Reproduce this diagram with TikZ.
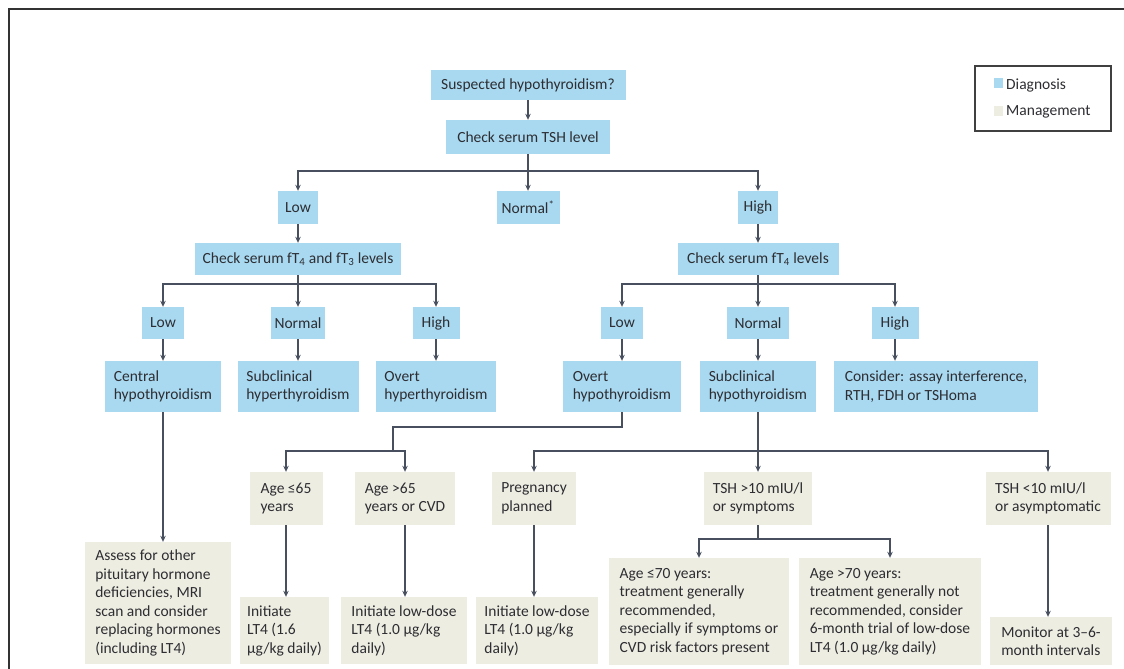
\documentclass[tikz,border=0pt]{standalone}
\usepackage{fontspec}
\setmainfont{Carlito}
\usetikzlibrary{arrows.meta}
\definecolor{diagc}{RGB}{168,217,240}
\definecolor{mgmtc}{RGB}{238,237,226}
\definecolor{linec}{RGB}{72,80,96}
\definecolor{txtc}{RGB}{45,45,50}
\begin{document}
\begin{tikzpicture}[x=1pt,y=-1pt,
  box/.style={inner sep=0pt, font=\fontsize{15.5}{18.5}\selectfont, text=txtc, align=left},
  dbox/.style={box, fill=diagc},
  mbox/.style={box, fill=mgmtc},
  arr/.style={draw=linec, line width=1.8pt, -{Stealth[length=6pt,width=5.5pt]}},
  ln/.style={draw=linec, line width=1.8pt},
  frame/.style={draw=black!80, line width=2.5pt},
  legbox/.style={draw=black!75, line width=1.6pt}]
\path[use as bounding box] (0,0) rectangle (1124,669);
\draw[frame] (1124,9) -- (9,9) -- (9,669);

% legend
\draw[legbox] (975,66) rectangle (1111,131);
\fill[diagc] (994,78) rectangle (1003,88);
\fill[mgmtc] (994,106) rectangle (1003,116);
\node[box, anchor=west] (legd) at (1006,85) {Diagnosis};
\node[box, anchor=west] (legm) at (1006,112) {Management};

% diagnosis nodes
\node[dbox, minimum width=195pt, minimum height=30pt] (susp) at (528,85) {Suspected hypothyroidism?};
\node[dbox, minimum width=164pt, minimum height=34pt] (tsh) at (528,137) {Check serum TSH level};
\node[dbox, minimum width=40pt, minimum height=33pt] (low1) at (298,207.5) {Low};
\node[dbox, minimum width=63pt, minimum height=33pt] (norm1) at (528,207.5) {Normal\textsuperscript{*}};
\node[dbox, minimum width=40pt, minimum height=33pt] (high1) at (758,207.5) {High};
\node[dbox, minimum width=206pt, minimum height=32pt] (chk1) at (298,259) {Check serum fT\textsubscript{4} and fT\textsubscript{3} levels};
\node[dbox, minimum width=161pt, minimum height=32pt] (chk2) at (758,259) {Check serum fT\textsubscript{4} levels};
\node[dbox, minimum width=42pt, minimum height=32pt] (low2) at (163,323) {Low};
\node[dbox, minimum width=54pt, minimum height=32pt] (norm2) at (298,323) {Normal};
\node[dbox, minimum width=47pt, minimum height=32pt] (high2) at (436,323) {High};
\node[dbox, minimum width=42pt, minimum height=32pt] (low3) at (622,323) {Low};
\node[dbox, minimum width=62pt, minimum height=32pt] (norm3) at (758,323) {Normal};
\node[dbox, minimum width=47pt, minimum height=32pt] (high3) at (895,323) {High};
\node[dbox, minimum width=116pt, minimum height=51pt] (central) at (163,386.5) {Central\\hypothyroidism};
\node[dbox, minimum width=121pt, minimum height=51pt] (subhyper) at (298,386.5) {Subclinical\\hyperthyroidism};
\node[dbox, minimum width=120pt, minimum height=51pt] (overhyper) at (436,386.5) {Overt\\hyperthyroidism};
\node[dbox, minimum width=118pt, minimum height=51pt] (overhypo) at (622,386.5) {Overt\\hypothyroidism};
\node[dbox, minimum width=116pt, minimum height=51pt] (subhypo) at (758,386.5) {Subclinical\\hypothyroidism};
\node[dbox, minimum width=204pt, minimum height=51pt] (consider) at (936,386.5) {Consider: assay interference,\\RTH, FDH or TSHoma};

% management nodes
\node[mbox, minimum width=73pt, minimum height=53pt] (age65) at (286,498.5) {Age ≤65\\years};
\node[mbox, minimum width=100pt, minimum height=53pt] (age65b) at (405,498.5) {Age >65\\years or CVD};
\node[mbox, minimum width=84pt, minimum height=53pt] (preg) at (534,498.5) {Pregnancy\\planned};
\node[mbox, minimum width=108pt, minimum height=53pt] (tsh10) at (758,498.5) {TSH >10 mIU/l\\or symptoms};
\node[mbox, minimum width=125pt, minimum height=53pt] (tsh10b) at (1048,498.5) {TSH <10 mIU/l\\or asymptomatic};
\node[mbox, minimum width=146pt, minimum height=122pt] (assess) at (158,603) {Assess for other\\pituitary hormone\\deficiencies, MRI\\scan and consider\\replacing hormones\\(including LT4)};
\node[mbox, minimum width=89pt, minimum height=67pt] (init1) at (284.5,630.5) {Initiate\\LT4 (1.6\\µg/kg daily)};
\node[mbox, minimum width=126pt, minimum height=67pt] (init2) at (404,630.5) {Initiate low-dose\\LT4 (1.0 µg/kg\\daily)};
\node[mbox, minimum width=122pt, minimum height=67pt] (init3) at (537,630.5) {Initiate low-dose\\LT4 (1.0 µg/kg\\daily)};
\node[mbox, minimum width=180pt, minimum height=107pt] (age70) at (699,611.5) {Age ≤70 years:\\treatment generally\\recommended,\\especially if symptoms or\\CVD risk factors present};
\node[mbox, minimum width=182pt, minimum height=107pt] (age70b) at (890,611.5) {Age >70 years:\\treatment generally not\\recommended, consider\\6-month trial of low-dose\\LT4 (1.0 µg/kg daily)};
\node[mbox, minimum width=122pt, minimum height=48pt] (monitor) at (1051,641) {Monitor at 3–6-\\month intervals};

% junctions
\coordinate (j1) at (528,171);
\coordinate (j2) at (298,284);
\coordinate (j3) at (758,284);
\coordinate (k1) at (622,427);
\coordinate (k2) at (393,427);
\coordinate (k3) at (393,451);
\coordinate (k4) at (758,451);
\coordinate (k5) at (758,539);

% connectors
\draw[arr] (susp) -- (tsh);
\draw[arr] (tsh) -- (norm1);
\draw[arr] (j1) -| (low1);
\draw[arr] (j1) -| (high1);
\draw[arr] (low1) -- (chk1);
\draw[arr] (high1) -- (chk2);
\draw[arr] (chk1) -- (norm2);
\draw[arr] (j2) -| (low2);
\draw[arr] (j2) -| (high2);
\draw[arr] (chk2) -- (norm3);
\draw[arr] (j3) -| (low3);
\draw[arr] (j3) -| (high3);
\draw[arr] (low2) -- (central);
\draw[arr] (norm2) -- (subhyper);
\draw[arr] (high2) -- (overhyper);
\draw[arr] (low3) -- (overhypo);
\draw[arr] (norm3) -- (subhypo);
\draw[arr] (high3) -- (high3 |- consider.north);
\draw[arr] (central.south) -- (central.south |- assess.north);
\draw[ln] (overhypo.south) -- (k1) -- (k2) -- (k3);
\draw[arr] (k3) -| (age65);
\draw[arr] (k3) -| (age65b);
\draw[arr] (subhypo) -- (tsh10);
\draw[arr] (k4) -| (preg);
\draw[arr] (k4) -| (tsh10b);
\draw[arr] (age65.south) -- (age65.south |- init1.north);
\draw[arr] (age65b.south) -- (age65b.south |- init2.north);
\draw[arr] (preg.south) -- (preg.south |- init3.north);
\draw[ln] (tsh10) -- (k5);
\draw[arr] (k5) -| (age70);
\draw[arr] (k5) -| (age70b);
\draw[arr] (tsh10b.south) -- (tsh10b.south |- monitor.north);
\end{tikzpicture}
\end{document}
